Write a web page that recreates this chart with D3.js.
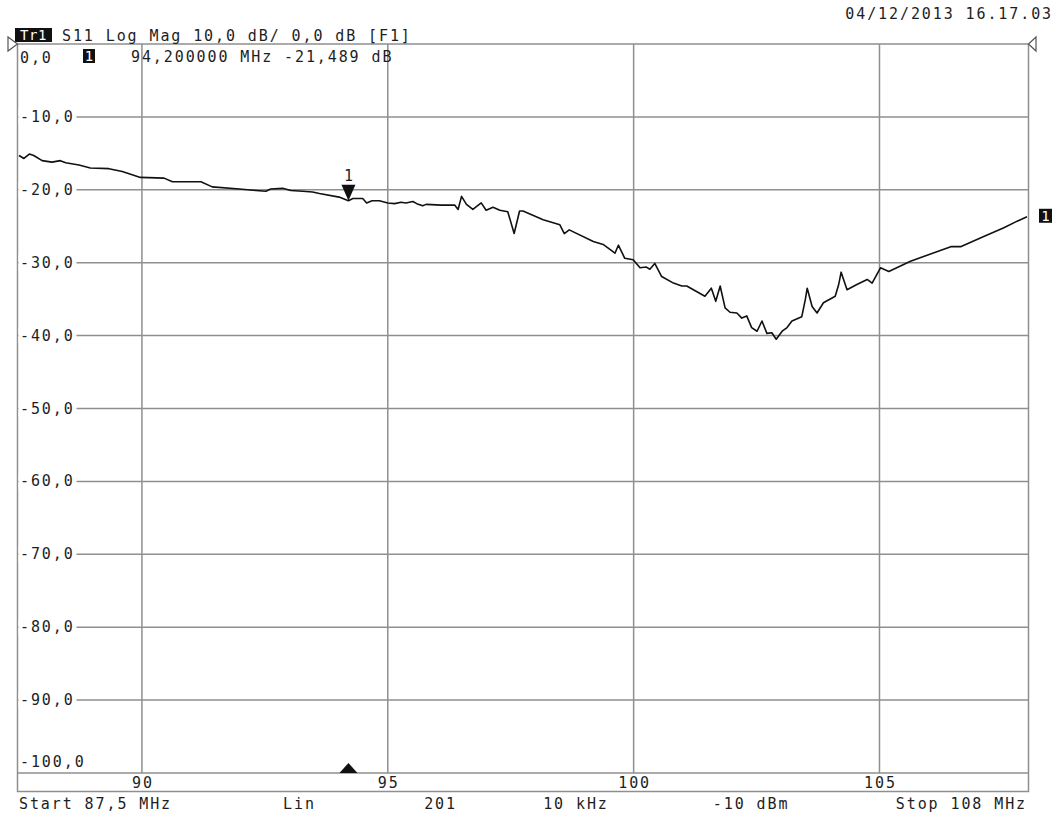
<!DOCTYPE html>
<html>
<head>
<meta charset="utf-8">
<script src="https://cdn.jsdelivr.net/npm/d3@7"></script>
<style>
  html, body { margin: 0; padding: 0; background: #fff; }
  svg { display: block; }
  text { font-family: "DejaVu Sans Mono", "Liberation Mono", monospace; font-size: 15px; fill: #1e1e1e; letter-spacing: 1.9px; }
  text.inv { fill: #fff; letter-spacing: 0.5px; font-size: 14px; }
</style>
</head>
<body>
<svg id="chart" width="1059" height="815"></svg>
<script>
// ---- data (S11, dB vs MHz) ----
const freqMHz = [87.5, 87.6, 87.71, 87.8, 87.97, 88.17, 88.34, 88.45, 88.72, 88.95, 89.33, 89.6, 89.97, 90.45, 90.62, 91.2, 91.43, 91.98, 92.32, 92.52, 92.62, 92.86, 93.03, 93.27, 93.47, 93.61, 94.01, 94.2, 94.29, 94.49, 94.57, 94.68, 94.83, 95.0, 95.14, 95.27, 95.37, 95.51, 95.59, 95.71, 95.78, 96.09, 96.36, 96.43, 96.5, 96.6, 96.73, 96.9, 97.0, 97.14, 97.28, 97.44, 97.57, 97.68, 97.75, 98.16, 98.5, 98.59, 98.69, 99.18, 99.38, 99.62, 99.69, 99.82, 99.99, 100.13, 100.26, 100.33, 100.43, 100.57, 100.81, 100.98, 101.08, 101.45, 101.58, 101.67, 101.76, 101.86, 101.96, 102.1, 102.2, 102.3, 102.4, 102.51, 102.61, 102.71, 102.81, 102.9, 103.02, 103.12, 103.22, 103.42, 103.49, 103.53, 103.63, 103.73, 103.86, 104.1, 104.17, 104.22, 104.34, 104.54, 104.75, 104.85, 105.02, 105.19, 105.63, 106.45, 106.65, 107.12, 107.53, 107.8, 108.0];
const s11dB = [-15.3, -15.7, -15.1, -15.3, -16.0, -16.2, -16.0, -16.3, -16.6, -17.0, -17.1, -17.5, -18.3, -18.4, -18.9, -18.9, -19.6, -19.9, -20.1, -20.2, -19.9, -19.8, -20.1, -20.2, -20.3, -20.5, -21.0, -21.489, -21.2, -21.2, -21.8, -21.5, -21.5, -21.8, -21.9, -21.7, -21.8, -21.6, -21.9, -22.2, -22.0, -22.1, -22.1, -22.7, -20.9, -22.0, -22.7, -21.8, -22.8, -22.4, -22.8, -23.0, -26.0, -22.9, -22.9, -24.1, -24.8, -26.0, -25.5, -27.1, -27.5, -28.7, -27.6, -29.4, -29.6, -30.7, -30.6, -30.9, -30.1, -31.9, -32.8, -33.2, -33.2, -34.6, -33.5, -35.3, -33.2, -36.2, -36.8, -36.9, -37.6, -37.3, -38.9, -39.4, -38.0, -39.7, -39.6, -40.5, -39.4, -38.9, -38.0, -37.4, -35.1, -33.5, -36.0, -36.9, -35.5, -34.6, -33.0, -31.3, -33.7, -33.0, -32.3, -32.8, -30.7, -31.2, -29.8, -27.8, -27.8, -26.4, -25.2, -24.3, -23.7];

const yTicks = [0, -10, -20, -30, -40, -50, -60, -70, -80, -90, -100];
const xTicks = [90, 95, 100, 105];
const markerFreq = 94.2;
const markerValue = -21.489;
const headerText = "S11 Log Mag 10,0 dB/ 0,0 dB [F1]";
const markerText = "94,200000 MHz -21,489 dB";
const dateText = "04/12/2013 16.17.03";
const footerLabels = [
  { t: "Start 87,5 MHz", f: 87.5, a: "start" },
  { t: "Lin", f: 92.87, a: "start" },
  { t: "201", f: 95.74, a: "start" },
  { t: "10 kHz", f: 98.16, a: "start" },
  { t: "-10 dBm", f: 101.61, a: "start" },
  { t: "Stop 108 MHz", f: 108, a: "end" }
];

// ---- layout ----
const svg = d3.select("#chart");
const x = d3.scaleLinear().domain([87.5, 108]).range([19, 1027]);
const y = d3.scaleLinear().domain([-100, 0]).range([773, 44]);
const L = 17.5, R = 1028.5, T = y(0), B = y(-100), B2 = 791.5;
const grid = "#8f8f8f";
const fmt = v => d3.format(".1f")(v).replace(".", ",").replace("−", "-");

// frame
svg.append("rect").attr("x", L).attr("y", T).attr("width", R - L).attr("height", B2 - T)
  .attr("fill", "none").attr("stroke", grid).attr("stroke-width", 1.5);
svg.append("line").attr("x1", L).attr("x2", R).attr("y1", B).attr("y2", B)
  .attr("stroke", grid).attr("stroke-width", 1.5);

// vertical grid
svg.selectAll(".vg").data(xTicks).join("line")
  .attr("x1", d => x(d)).attr("x2", d => x(d)).attr("y1", T).attr("y2", B)
  .attr("stroke", grid).attr("stroke-width", 1.5);
// horizontal grid
svg.selectAll(".hg").data(yTicks.filter(d => d !== 0 && d !== -100)).join("line")
  .attr("x1", L).attr("x2", R).attr("y1", d => y(d)).attr("y2", d => y(d))
  .attr("stroke", grid).attr("stroke-width", 1.5);

// y labels (white background)
yTicks.forEach(d => {
  let cy = y(d);
  if (d === 0) cy = y(d) + 14;
  if (d === -100) cy = y(d) - 11;
  const txt = fmt(d);
  if (d !== 0 && d !== -100) {
    svg.append("rect").attr("x", L + 1).attr("y", cy - 8).attr("width", txt.length * 10.8 + 4).attr("height", 16).attr("fill", "#fff");
  }
  svg.append("text").attr("x", 20).attr("y", cy + 5).text(txt);
});

// x labels
svg.selectAll(".xl").data(xTicks).join("text")
  .attr("x", d => x(d) + 1).attr("y", 788).attr("text-anchor", "middle").text(d => d);

// footer
footerLabels.forEach(d => {
  svg.append("text").attr("x", d.f === 87.5 ? 19 : x(d.f)).attr("y", 809)
    .attr("text-anchor", d.a).text(d.t);
});

// trace
const line = d3.line().x((d, i) => x(freqMHz[i])).y(d => y(d));
svg.append("path").datum(s11dB).attr("d", line)
  .attr("fill", "none").attr("stroke", "#111").attr("stroke-width", 1.6).attr("stroke-linejoin", "round");

// header
svg.append("rect").attr("x", 15).attr("y", 28).attr("width", 37).attr("height", 14).attr("fill", "#111");
svg.append("text").attr("class", "inv").attr("x", 33.5).attr("y", 40).attr("text-anchor", "middle").text("Tr1");
svg.append("text").attr("x", 62).attr("y", 41).text(headerText);
svg.append("text").attr("x", 1053).attr("y", 19).attr("text-anchor", "end").text(dateText);

// second line
svg.append("rect").attr("x", 83).attr("y", 49).attr("width", 12).attr("height", 14).attr("fill", "#111");
svg.append("text").attr("class", "inv").attr("x", 89.3).attr("y", 61).attr("text-anchor", "middle").text("1");
svg.append("text").attr("x", 131).attr("y", 62).text(markerText);

// reference triangles
svg.append("path").attr("d", `M8,37 L${L},44 L8,51 Z`).attr("fill", "#fff").attr("stroke", "#555").attr("stroke-width", 1.2);
svg.append("path").attr("d", `M1036,37 L${R},44 L1036,51 Z`).attr("fill", "#fff").attr("stroke", "#555").attr("stroke-width", 1.2);

// marker 1 on trace
const mx = x(markerFreq), my = y(markerValue);
svg.append("path").attr("d", `M${mx - 7},${my - 16} L${mx + 7},${my - 16} L${mx},${my} Z`).attr("fill", "#111");
svg.append("text").attr("x", mx + 1).attr("y", my - 20).attr("text-anchor", "middle").text("1");
// stimulus marker at bottom
svg.append("path").attr("d", `M${mx - 9},${B} L${mx + 9},${B} L${mx},${B - 10} Z`).attr("fill", "#111");

// right trace indicator
const ey = y(s11dB[s11dB.length - 1]);
svg.append("rect").attr("x", 1039).attr("y", ey - 8).attr("width", 13).attr("height", 14).attr("fill", "#111");
svg.append("text").attr("class", "inv").attr("x", 1045.8).attr("y", ey + 4).attr("text-anchor", "middle").text("1");
</script>
</body>
</html>
